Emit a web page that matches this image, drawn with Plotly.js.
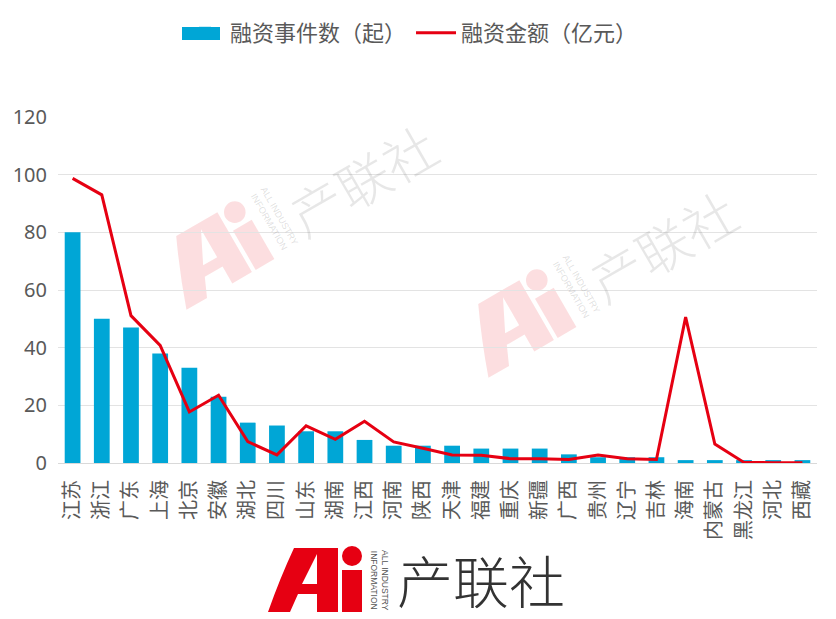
<!DOCTYPE html>
<html>
<head>
<meta charset="utf-8">
<script src="https://cdn.plot.ly/plotly-3.0.1.min.js"></script>
<style>html,body{margin:0;padding:0;background:#fff;}#chart{width:836px;height:619px;}</style>
</head>
<body>
<div id="chart"></div>
<script>
// ---- data ----
var provinces = ["江苏","浙江","广东","上海","北京","安徽","湖北","四川","山东","湖南","江西","河南","陕西","天津","福建","重庆","新疆","广西","贵州","辽宁","吉林","海南","内蒙古","黑龙江","河北","西藏"];
var eventCounts = [80,50,47,38,33,23,14,13,11,11,8,6,6,6,5,5,5,3,2,2,2,1,1,1,1,1];
var amounts = [98.7,93,51.1,40.8,17.7,23.5,7.4,2.8,12.9,8.2,14.5,7.3,5.1,2.8,2.7,1.5,1.5,1.2,2.8,1.5,1.2,50.6,6.6,0.2,0.1,0.1];
var yTicks = [0,20,40,60,80,100,120];
var seriesNames = ["融资事件数（起）","融资金额（亿元）"];
var brandName = "产联社";
var brandSub = "ALL INDUSTRY<br>INFORMATION";

// ---- layout geometry (pixels) ----
var PL = 58, PW = 759, PB = 463, PH = 346;
function px2x(p){ return (p - PL) / PW; }
function px2y(p){ return (PB - p) / PH; }

// logo mark drawing helper (local logo coordinates, pixels)
function makeMark(ax, ay, angDeg, sc, redColor, subColor){
  var th = angDeg * Math.PI / 180, c = Math.cos(th), s = Math.sin(th);
  var C = [124, 40];
  function XY(lx, ly){
    var dx = (lx - C[0]) * sc, dy = (ly - C[1]) * sc;
    return [ax + dx * c + dy * s, ay - dx * s + dy * c];
  }
  function T(lx, ly){ var p = XY(lx, ly); return px2x(p[0]).toFixed(5) + "," + px2y(p[1]).toFixed(5); }
  var shapes = [];
  var aPath = "M" + T(13,72) + " Q" + T(25,38) + " " + T(39,8) + " L" + T(83,8) + " L" + T(83,72) +
              " L" + T(62,72) + " L" + T(62,54) + " L" + T(43,54) + " L" + T(35,72) + " Z" +
              " M" + T(62,14) + " L" + T(47,44) + " L" + T(62,44) + " Z";
  shapes.push({type:"path", xref:"paper", yref:"paper", path:aPath, fillcolor:redColor, line:{width:0}, layer:"below"});
  var iPath = "M" + T(87,30) + " L" + T(107,30) + " L" + T(107,72) + " L" + T(87,72) + " Z";
  shapes.push({type:"path", xref:"paper", yref:"paper", path:iPath, fillcolor:redColor, line:{width:0}, layer:"below"});
  var cc = XY(97, 16), r = 10 * sc;
  shapes.push({type:"circle", xref:"paper", yref:"paper", x0:px2x(cc[0]-r), x1:px2x(cc[0]+r), y0:px2y(cc[1]+r), y1:px2y(cc[1]-r), fillcolor:redColor, line:{width:0}, layer:"below"});
  var sub = XY(125, 40);
  var anns = [
    {xref:"paper", yref:"paper", x:px2x(sub[0]), y:px2y(sub[1]), xanchor:"center", yanchor:"middle", showarrow:false,
     text:brandSub, textangle:90 - angDeg, font:{family:"Liberation Sans Narrow, Liberation Sans, Arial", size:8.5 * sc, color:subColor}}
  ];
  return {shapes:shapes, anns:anns};
}
function brandText(cx, cy, angDeg, size, color){
  return {xref:"paper", yref:"paper", x:px2x(cx), y:px2y(cy), xanchor:"center", yanchor:"middle", showarrow:false,
          text:brandName, textangle:-angDeg, font:{family:"Noto Sans CJK SC", size:size, color:color, weight:300}};
}

var wmRed = "rgba(230,0,18,0.13)", wmText = "rgba(110,110,110,0.17)", wmSub = "rgba(110,110,110,0.22)";
var marks = [
  makeMark(273, 220, 30, 1.08, wmRed, wmSub),
  makeMark(575, 288, 30, 1.08, wmRed, wmSub),
  makeMark(379, 580, 0, 1, "#E60012", "#555555")
];
var allShapes = [], allAnns = [];
marks.forEach(function(l){ allShapes = allShapes.concat(l.shapes); allAnns = allAnns.concat(l.anns); });
allAnns.push(brandText(362, 179, 30, 53, wmText));
allAnns.push(brandText(662, 245, 30, 53, wmText));
allAnns.push(brandText(481, 578, 0, 56, "#333333"));

// legend swatch widened to match the reference's long blue key
allShapes.push({type:"rect", xref:"paper", yref:"paper", x0:px2x(182), x1:px2x(220), y0:px2y(40), y1:px2y(27),
                fillcolor:"#00A6D6", line:{width:0}, layer:"above"});

var traces = [
  {type:"bar", x:provinces, y:eventCounts, name:seriesNames[0],
   marker:{color:"#00A6D6"}, hoverinfo:"x+y"},
  {type:"scatter", mode:"lines", x:provinces, y:amounts, name:seriesNames[1],
   line:{color:"#E60012", width:3}, hoverinfo:"x+y"}
];

var layout = {
  width:836, height:619,
  margin:{l:PL, r:836-PL-PW, t:PB-PH, b:619-PB, pad:0},
  paper_bgcolor:"#ffffff", plot_bgcolor:"rgba(0,0,0,0)",
  font:{family:"Noto Sans CJK SC, Noto Sans, sans-serif", color:"#595959"},
  bargap:0.46,
  showlegend:true,
  legend:{orientation:"h", x:px2x(180), xanchor:"left", y:px2y(33), yanchor:"middle",
          bgcolor:"rgba(0,0,0,0)", font:{size:22, color:"#595959"}, itemwidth:40, traceorder:"normal"},
  xaxis:{type:"category", showgrid:false, showline:true, linecolor:"#d9d9d9", linewidth:1,
         ticks:"", tickangle:-90, tickfont:{size:20, color:"#595959"}, ticklabelstandoff:8},
  yaxis:{range:[0,120], tickvals:yTicks, showgrid:true, gridcolor:"#e3e3e3", gridwidth:1,
         zeroline:false, showline:false, ticks:"", tickfont:{size:20, color:"#595959", family:"Noto Sans, sans-serif"},
         ticklabelstandoff:10},
  shapes:allShapes,
  annotations:allAnns
};

Plotly.newPlot("chart", traces, layout, {displayModeBar:false, staticPlot:true});
</script>
</body>
</html>
